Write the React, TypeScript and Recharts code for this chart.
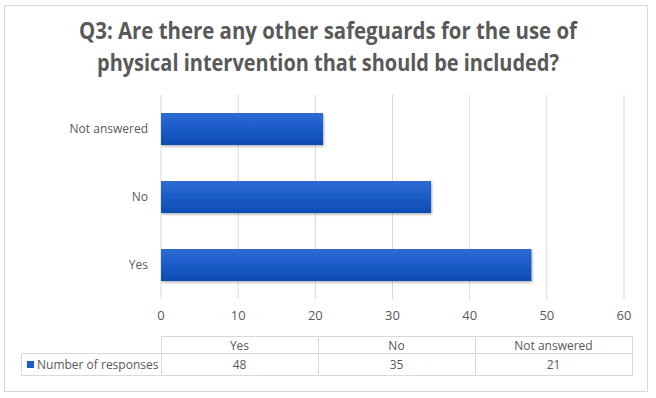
import React from "react";
import { BarChart, Bar, XAxis, YAxis, CartesianGrid } from "recharts";

const categories = ["Yes", "No", "Not answered"];
const responses = [48, 35, 21];
const xTicks = [0, 10, 20, 30, 40, 50, 60];
const seriesName = "Number of responses";
const titleLines = [
  "Q3: Are there any other safeguards for the use of",
  "physical intervention that should be included?",
];

const data = categories.map((c, i) => ({ category: c, value: responses[i] }));

const FONT = "'Open Sans', 'Noto Sans', sans-serif";
const TEXT = "#595959";
const GRID = "#D9D9D9";

export default function App() {
  return (
    <div
      style={{
        position: "absolute",
        left: 0,
        top: 0,
        width: 656,
        height: 398,
        background: "#fff",
        fontFamily: FONT,
        color: TEXT,
      }}
    >
      <div
        style={{
          position: "absolute",
          left: 4,
          top: 5,
          width: 642,
          height: 385,
          border: `1px solid ${GRID}`,
        }}
      />
      <svg
        width={656}
        height={90}
        style={{ position: "absolute", left: 0, top: 0 }}
      >
        <text
          x={328}
          y={39}
          textAnchor="middle"
          fontFamily={FONT}
          fontWeight={700}
          fontSize={23}
          fill={TEXT}
          textLength={498}
          lengthAdjust="spacingAndGlyphs"
        >
          {titleLines[0]}
        </text>
        <text
          x={328}
          y={71}
          textAnchor="middle"
          fontFamily={FONT}
          fontWeight={700}
          fontSize={23}
          fill={TEXT}
          textLength={462}
          lengthAdjust="spacingAndGlyphs"
        >
          {titleLines[1]}
        </text>
      </svg>
      <div style={{ position: "absolute", left: 0, top: 0 }}>
        <BarChart
          width={656}
          height={398}
          data={data}
          layout="vertical"
          margin={{ top: 95, right: 32, bottom: 69, left: 0 }}
          barSize={32}
        >
          <defs>
            <linearGradient id="barGrad" x1="0" y1="0" x2="0" y2="1">
              <stop offset="0%" stopColor="#2F6CD3" />
              <stop offset="45%" stopColor="#1C5CC8" />
              <stop offset="100%" stopColor="#0E4DB3" />
            </linearGradient>
            <filter id="shadow" x="-5%" y="-20%" width="110%" height="150%">
              <feDropShadow dx="1" dy="1.5" stdDeviation="1" floodColor="#000" floodOpacity="0.3" />
            </filter>
          </defs>
          <CartesianGrid horizontal={false} stroke={GRID} strokeWidth={1} />
          <XAxis
            type="number"
            domain={[0, 60]}
            ticks={xTicks}
            axisLine={false}
            tickLine={false}
            tickMargin={6}
            height={30}
            tick={{ fill: TEXT, fontSize: 13, fontFamily: FONT }}
          />
          <YAxis
            type="category"
            dataKey="category"
            reversed
            width={161}
            axisLine={false}
            tickLine={false}
            tickMargin={7}
            tick={{ fill: TEXT, fontSize: 12, fontFamily: FONT }}
          />
          <Bar
            dataKey="value"
            name={seriesName}
            fill="url(#barGrad)"
            filter="url(#shadow)"
            isAnimationActive={false}
          />
        </BarChart>
      </div>
      <table
        style={{
          position: "absolute",
          left: 21,
          top: 336,
          borderCollapse: "collapse",
          fontFamily: FONT,
          fontSize: 12,
          color: TEXT,
          tableLayout: "fixed",
        }}
      >
        <tbody>
          <tr style={{ height: 17 }}>
            <td style={{ width: 139, padding: 0 }} />
            {categories.map((c) => (
              <td
                key={c}
                style={{
                  width: 156,
                  padding: 0,
                  border: `1px solid ${GRID}`,
                  textAlign: "center",
                  lineHeight: "15px",
                }}
              >
                {c}
              </td>
            ))}
          </tr>
          <tr style={{ height: 22 }}>
            <td
              style={{
                padding: "0 0 0 5px",
                border: `1px solid ${GRID}`,
                whiteSpace: "nowrap",
                lineHeight: "20px",
              }}
            >
              <span
                style={{
                  display: "inline-block",
                  width: 7,
                  height: 7,
                  background: "#1C5CC8",
                  marginRight: 3,
                  verticalAlign: "middle",
                  position: "relative",
                  top: -1,
                }}
              />
              {seriesName}
            </td>
            {responses.map((v, i) => (
              <td
                key={i}
                style={{
                  padding: 0,
                  border: `1px solid ${GRID}`,
                  textAlign: "center",
                  lineHeight: "20px",
                }}
              >
                {v}
              </td>
            ))}
          </tr>
        </tbody>
      </table>
    </div>
  );
}
